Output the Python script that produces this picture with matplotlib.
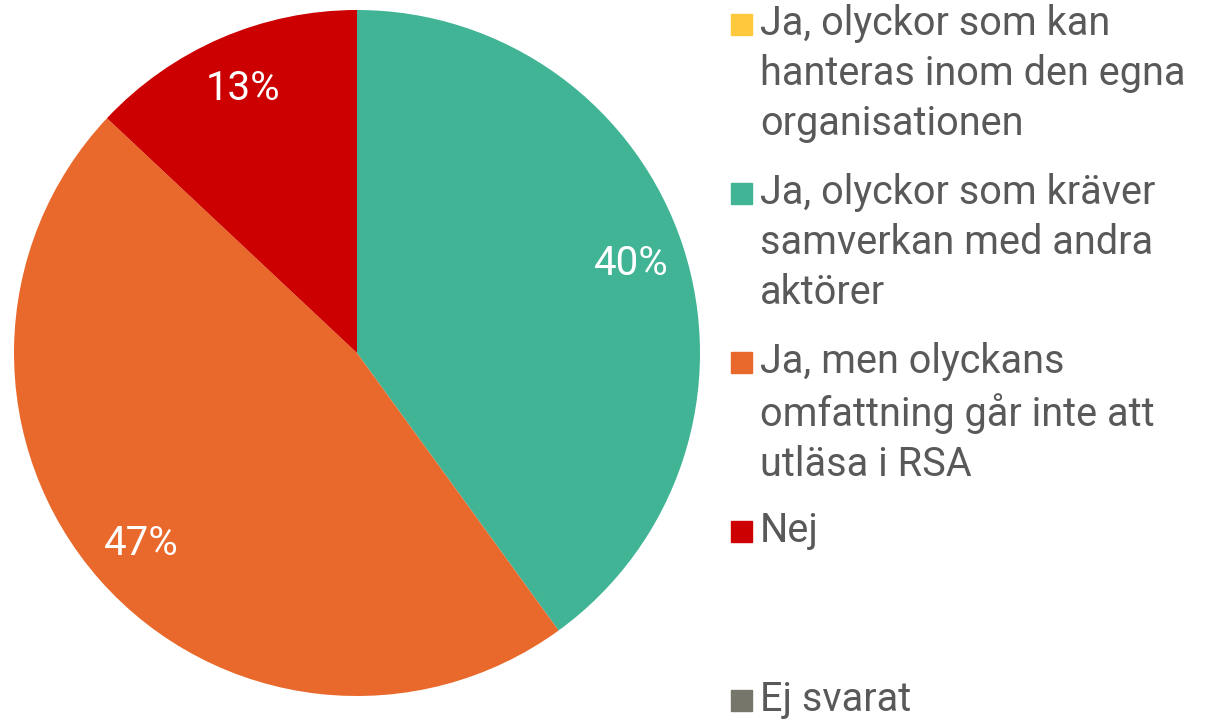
import matplotlib.pyplot as plt
from matplotlib.patches import Rectangle

plt.rcParams['font.family'] = ['Roboto', 'DejaVu Sans']

# data
labels = ['Ja, olyckor som kan\nhanteras inom den egna\norganisationen',
          'Ja, olyckor som kräver\nsamverkan med andra\naktörer',
          'Ja, men olyckans\nomfattning går inte att\nutläsa i RSA',
          'Nej',
          'Ej svarat']
values = [0, 40, 47, 13, 0]
colors = ['#FFC83D', '#41B496', '#E9692C', '#CC0000', '#76766B']

W, H = 1209, 721
fig = plt.figure(figsize=(W / 100, H / 100), dpi=100)
ax = fig.add_axes([14 / W, 25 / H, 686 / W, 686 / H])

def fmt(p):
    return '%d%%' % round(p) if p > 0.5 else ''

wedges, texts, autotexts = ax.pie(values, colors=colors, startangle=90, counterclock=False,
                                  autopct=fmt, pctdistance=0.84, radius=1.0,
                                  wedgeprops=dict(linewidth=0),
                                  textprops=dict(color='white', fontsize=29))
ax.set_xlim(-1, 1)
ax.set_ylim(-1, 1)
ax.set_aspect('equal')

# legend drawn by hand, equal slots like the original
for i, (lab, c) in enumerate(zip(labels, colors)):
    sq_top = 14 + i * 169
    fig.patches.append(Rectangle((731 / W, 1 - (sq_top + 21) / H), 21 / W, 21 / H,
                                 transform=fig.transFigure, color=c))
    fig.text(760 / W, 1 - (sq_top + 21 - 31) / H, lab, va='top', ha='left', fontsize=28.5,
             color='#595959', linespacing=1.36)

plt.savefig('out.png')
